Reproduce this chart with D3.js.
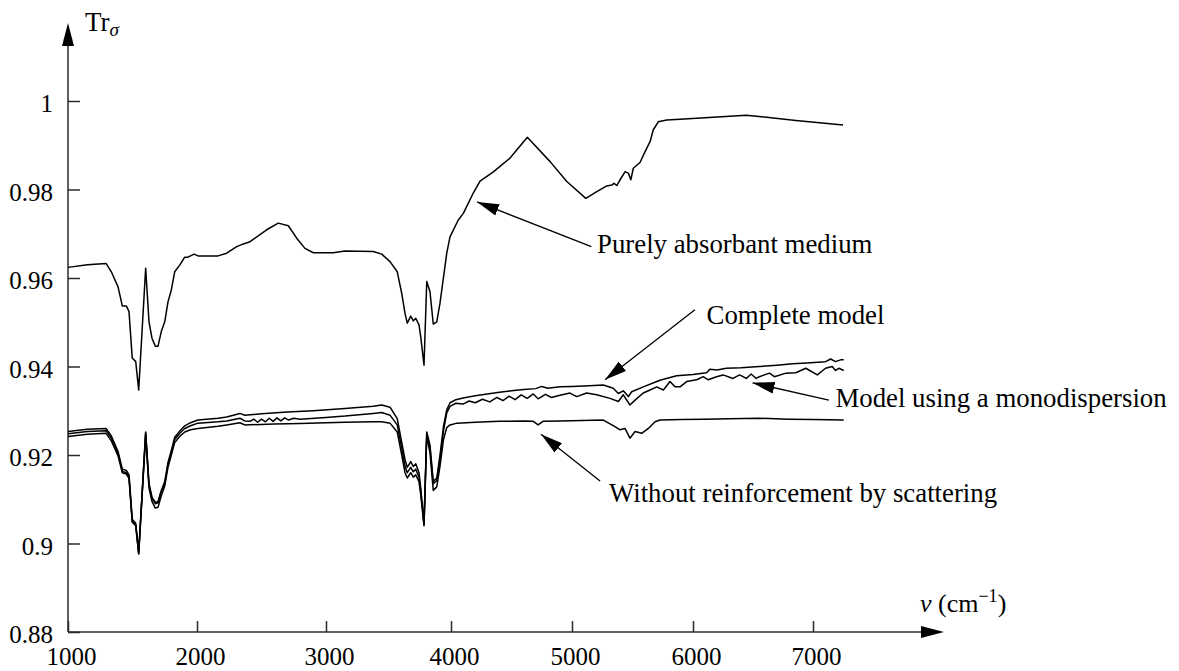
<!DOCTYPE html>
<html>
<head>
<meta charset="utf-8">
<script src="https://cdn.jsdelivr.net/npm/d3@7/dist/d3.min.js"></script>
<style>
  html, body { margin: 0; padding: 0; background: #fff; }
  svg { display: block; }
  text { font-family: "Liberation Serif", "Times New Roman", serif; fill: #000; }
</style>
</head>
<body>
<svg id="chart" width="1179" height="671"></svg>
<script>
// Wavenumber ticks (cm^-1) and transmittance ticks
const xTicks = [1000, 2000, 3000, 4000, 5000, 6000, 7000];
const xTickLabels = ["1000", "2000", "3000", "4000", "5000", "6000", "7000"];
const yTicks = [0.88, 0.90, 0.92, 0.94, 0.96, 0.98, 1.00];
const yTickLabels = ["0.88", "0.9", "0.92", "0.94", "0.96", "0.98", "1"];

// Purely absorbant medium: [wavenumber, Tr]
const purelyAbsorbant = [
  [1000,0.9624],[1150,0.9630],[1295,0.9633],[1336,0.9614],[1388,0.9580],[1421,0.9537],[1452,0.9537],
  [1473,0.9524],[1498,0.9419],[1525,0.9411],[1548,0.9347],[1602,0.9622],[1628,0.9501],[1651,0.9464],
  [1677,0.9446],[1698,0.9446],[1723,0.9479],[1750,0.9501],[1775,0.9546],[1801,0.9573],[1827,0.9614],
  [1866,0.9629],[1905,0.9647],[1930,0.9647],[1977,0.9654],[2008,0.9650],[2163,0.9650],[2230,0.9656],
  [2308,0.9671],[2359,0.9677],[2411,0.9682],[2540,0.9709],[2630,0.9724],[2708,0.9718],[2773,0.9690],
  [2837,0.9667],[2902,0.9657],[3058,0.9657],[3152,0.9661],[3378,0.9660],[3446,0.9654],[3512,0.9637],
  [3570,0.9614],[3606,0.9565],[3632,0.9520],[3650,0.9498],[3678,0.9514],[3698,0.9503],[3718,0.9509],
  [3744,0.9494],[3758,0.9467],[3784,0.9403],[3806,0.9592],[3832,0.9569],[3858,0.9496],[3886,0.9501],
  [3912,0.9543],[3966,0.9656],[3992,0.9693],[4060,0.9731],[4102,0.9746],[4184,0.9792],[4240,0.9819],
  [4350,0.9840],[4488,0.9871],[4631,0.9918],[4819,0.9863],[4957,0.9818],[5114,0.9780],[5205,0.9795],
  [5287,0.9808],[5329,0.9810],[5347,0.9814],[5370,0.9809],[5397,0.9822],[5438,0.9840],[5466,0.9837],
  [5486,0.9822],[5507,0.9848],[5562,0.9861],[5603,0.9885],[5645,0.9908],[5672,0.9935],[5713,0.9953],
  [5783,0.9957],[5893,0.9959],[6444,0.9968],[6857,0.9956],[7250,0.9946]
];

// Complete model
const completeModel = [
  [1000,0.9253],[1150,0.9258],[1295,0.9260],[1336,0.9243],[1388,0.9208],[1421,0.9168],[1452,0.9165],
  [1473,0.9155],[1498,0.9055],[1525,0.9046],[1548,0.8980],[1602,0.9252],[1628,0.9135],[1651,0.9105],
  [1677,0.9093],[1698,0.9095],[1723,0.9120],[1750,0.9140],[1775,0.9183],[1801,0.9210],[1827,0.9240],
  [1866,0.9254],[1905,0.9266],[1950,0.9273],[2008,0.9279],[2163,0.9283],[2230,0.9286],[2333,0.9294],
  [2370,0.9290],[2500,0.9293],[2700,0.9297],[2900,0.9300],[3152,0.9305],[3378,0.9310],[3446,0.9313],
  [3512,0.9308],[3570,0.9282],[3606,0.9228],[3632,0.9190],[3650,0.9172],[3678,0.9185],[3698,0.9174],
  [3718,0.9180],[3744,0.9160],[3758,0.9125],[3784,0.9045],[3806,0.9252],[3832,0.9222],[3858,0.9140],
  [3886,0.9148],[3912,0.9200],[3940,0.9265],[3966,0.9302],[3992,0.9318],[4040,0.9325],[4100,0.9329],
  [4200,0.9334],[4300,0.9338],[4400,0.9342],[4500,0.9345],[4600,0.9348],[4700,0.9350],[4750,0.9355],
  [4800,0.9351],[4901,0.9354],[5000,0.9355],[5100,0.9356],[5259,0.9358],[5341,0.9351],[5383,0.9339],
  [5424,0.9345],[5466,0.9332],[5493,0.9343],[5589,0.9354],[5727,0.9369],[5865,0.9379],[6000,0.9382],
  [6113,0.9386],[6140,0.9394],[6200,0.9392],[6278,0.9396],[6400,0.9397],[6554,0.9400],[6700,0.9403],
  [6830,0.9406],[6950,0.9408],[7105,0.9411],[7147,0.9417],[7188,0.9411],[7230,0.9415],[7256,0.9415]
];

// Model using a monodispersion
const monodispersion = [
  [1000,0.9248],[1150,0.9253],[1295,0.9255],[1336,0.9238],[1388,0.9203],[1421,0.9163],[1452,0.9160],
  [1473,0.9150],[1498,0.9050],[1525,0.9042],[1548,0.8978],[1602,0.9249],[1628,0.9132],[1651,0.9102],
  [1677,0.9090],[1698,0.9092],[1723,0.9117],[1750,0.9136],[1775,0.9178],[1801,0.9205],[1827,0.9235],
  [1866,0.9249],[1905,0.9260],[1950,0.9266],[2008,0.9272],[2163,0.9275],[2230,0.9277],[2333,0.9283],
  [2370,0.9277],[2411,0.9276],[2440,0.9281],[2470,0.9274],[2500,0.9281],[2530,0.9275],[2560,0.9283],
  [2590,0.9276],[2620,0.9284],[2650,0.9277],[2680,0.9284],[2710,0.9279],[2750,0.9283],[2800,0.9281],
  [3000,0.9285],[3152,0.9288],[3378,0.9294],[3446,0.9296],[3512,0.9290],[3570,0.9268],[3606,0.9215],
  [3632,0.9175],[3650,0.9160],[3678,0.9172],[3698,0.9162],[3718,0.9168],[3744,0.9150],[3758,0.9118],
  [3784,0.9043],[3806,0.9248],[3832,0.9215],[3858,0.9135],[3886,0.9142],[3912,0.9190],[3940,0.9255],
  [3966,0.9295],[3992,0.9310],[4040,0.9317],[4100,0.9315],[4150,0.9322],[4200,0.9318],[4260,0.9326],
  [4320,0.9320],[4380,0.9330],[4430,0.9323],[4480,0.9333],[4530,0.9325],[4580,0.9336],[4630,0.9328],
  [4680,0.9338],[4720,0.9327],[4780,0.9337],[4830,0.9330],[4901,0.9335],[4983,0.9340],[5039,0.9332],
  [5121,0.9340],[5204,0.9336],[5314,0.9328],[5383,0.9321],[5424,0.9336],[5479,0.9313],[5521,0.9324],
  [5589,0.9340],[5645,0.9347],[5700,0.9354],[5755,0.9347],[5810,0.9366],[5851,0.9354],[5893,0.9354],
  [5948,0.9366],[6031,0.9370],[6085,0.9377],[6127,0.9370],[6196,0.9377],[6251,0.9381],[6333,0.9373],
  [6388,0.9381],[6444,0.9373],[6485,0.9383],[6526,0.9373],[6554,0.9377],[6637,0.9385],[6678,0.9377],
  [6775,0.9385],[6857,0.9386],[6940,0.9396],[7036,0.9381],[7105,0.9396],[7160,0.9400],[7188,0.9391],
  [7215,0.9396],[7256,0.9391]
];

// Without reinforcement by scattering
const withoutReinforcement = [
  [1000,0.9242],[1150,0.9247],[1295,0.9249],[1336,0.9232],[1388,0.9198],[1421,0.9160],[1452,0.9157],
  [1473,0.9147],[1498,0.9048],[1525,0.9040],[1548,0.8976],[1602,0.9246],[1628,0.9125],[1651,0.9095],
  [1677,0.9080],[1698,0.9082],[1723,0.9108],[1750,0.9130],[1775,0.9172],[1801,0.9200],[1827,0.9228],
  [1866,0.9242],[1905,0.9252],[1950,0.9257],[2008,0.9260],[2163,0.9265],[2230,0.9268],[2333,0.9273],
  [2370,0.9268],[2600,0.9270],[2800,0.9271],[3000,0.9273],[3152,0.9274],[3378,0.9275],[3446,0.9275],
  [3512,0.9272],[3570,0.9252],[3606,0.9200],[3632,0.9160],[3650,0.9148],[3678,0.9160],[3698,0.9150],
  [3718,0.9155],[3744,0.9140],[3758,0.9110],[3784,0.9040],[3806,0.9243],[3832,0.9205],[3858,0.9120],
  [3886,0.9128],[3912,0.9175],[3940,0.9235],[3966,0.9262],[3992,0.9268],[4050,0.9272],[4200,0.9274],
  [4400,0.9276],[4600,0.9277],[4680,0.9276],[4720,0.9268],[4760,0.9276],[4901,0.9277],[5259,0.9279],
  [5355,0.9264],[5397,0.9257],[5438,0.9260],[5479,0.9238],[5521,0.9253],[5576,0.9249],[5631,0.9260],
  [5686,0.9275],[5727,0.9279],[5900,0.9280],[6100,0.9281],[6300,0.9282],[6554,0.9283],[6800,0.9281],
  [7000,0.9280],[7256,0.9279]
];

// Callout labels: text anchor, leader start and arrow tip, all in data units
const callouts = [
  { text: "Purely absorbant medium",             at: [5207, 0.9657], from: [5160, 0.9671], to: [4215, 0.9772] },
  { text: "Complete model",                      at: [6113, 0.9496], from: [6016, 0.9528], to: [5273, 0.9370] },
  { text: "Model using a monodispersion",        at: [7187, 0.9309], from: [7132, 0.9324], to: [6496, 0.9363] },
  { text: "Without reinforcement by scattering", at: [5306, 0.9094], from: [5232, 0.9141], to: [4744, 0.9247] }
];

const serif = "'Liberation Serif', 'Times New Roman', serif";
const svg = d3.select("#chart");

// Horizontal scale follows the printed tick spacing of the original axis
const x = d3.scaleLinear()
  .domain(xTicks)
  .range([68, 197, 326, 451, 572, 693, 813]);
const y = d3.scaleLinear().domain([0.88, 1.0]).range([632, 101]);

const axisColor = "#2a2a2a";

// Arrowhead marker for the callouts
const defs = svg.append("defs");
defs.append("marker")
  .attr("id", "callout-head")
  .attr("viewBox", "0 0 22 12")
  .attr("refX", 22).attr("refY", 6)
  .attr("markerUnits", "userSpaceOnUse")
  .attr("markerWidth", 22).attr("markerHeight", 12)
  .attr("orient", "auto")
  .append("path").attr("d", "M0,0 L22,6 L0,12 Z").attr("fill", "#000");

// Axes
const yAxis = d3.axisLeft(y)
  .tickValues(yTicks)
  .tickFormat((d, i) => yTickLabels[i])
  .tickSizeInner(-12).tickSizeOuter(0).tickPadding(15);
const gy = svg.append("g").attr("transform", `translate(${x(1000)},0)`).call(yAxis)
  .attr("font-family", serif).attr("font-size", 25);
gy.select(".domain").remove();
gy.selectAll(".tick line").attr("stroke", axisColor).attr("stroke-width", 1.5);
gy.selectAll(".tick text").attr("dy", "0.42em");

const xAxis = d3.axisBottom(x)
  .tickValues(xTicks)
  .tickFormat((d, i) => xTickLabels[i])
  .tickSizeInner(-11).tickSizeOuter(0).tickPadding(15);
const gx = svg.append("g").attr("transform", `translate(0,${y(0.88)})`).call(xAxis)
  .attr("font-family", serif).attr("font-size", 25);
gx.select(".domain").remove();
gx.selectAll(".tick line").attr("stroke", axisColor).attr("stroke-width", 1.5);
gx.selectAll(".tick text").attr("dx", 3);

// Axis lines with arrowheads
const x0 = x(1000), y0 = y(0.88);
svg.append("line").attr("x1", x0).attr("y1", y0).attr("x2", x0).attr("y2", 46)
  .attr("stroke", axisColor).attr("stroke-width", 1.5);
svg.append("path").attr("d", `M${x0 - 6},46 L${x0},23 L${x0 + 6},46 Z`).attr("fill", "#000");
svg.append("line").attr("x1", x0).attr("y1", y0).attr("x2", 921).attr("y2", y0)
  .attr("stroke", axisColor).attr("stroke-width", 1.5);
svg.append("path").attr("d", `M921,${y0 - 6} L944,${y0} L921,${y0 + 6} Z`).attr("fill", "#000");

// Axis titles
const yTitle = svg.append("text").attr("x", 85).attr("y", 31).style("font-size", "27px");
yTitle.append("tspan").text("Tr");
yTitle.append("tspan").attr("dy", 5).style("font-size", "19px").style("font-style", "italic").text("σ");

const xTitle = svg.append("text").attr("x", 920).attr("y", 612).style("font-size", "26px");
xTitle.append("tspan").style("font-style", "italic").text("ν");
xTitle.append("tspan").text(" (cm");
xTitle.append("tspan").attr("dy", -10).style("font-size", "18px").text("−1");
xTitle.append("tspan").attr("dy", 10).text(")");

// Curves
const line = d3.line().x(d => x(d[0])).y(d => y(d[1]));
[purelyAbsorbant, completeModel, monodispersion, withoutReinforcement].forEach(series => {
  svg.append("path")
    .datum(series)
    .attr("d", line)
    .attr("fill", "none")
    .attr("stroke", "#000")
    .attr("stroke-width", 1.5)
    .attr("stroke-linejoin", "round");
});

// Callouts
callouts.forEach(c => {
  svg.append("line")
    .attr("x1", x(c.from[0])).attr("y1", y(c.from[1]))
    .attr("x2", x(c.to[0])).attr("y2", y(c.to[1]))
    .attr("stroke", "#000").attr("stroke-width", 1.3)
    .attr("marker-end", "url(#callout-head)");
  svg.append("text")
    .attr("x", x(c.at[0])).attr("y", y(c.at[1]))
    .style("font-size", "26.8px")
    .text(c.text);
});
</script>
</body>
</html>
